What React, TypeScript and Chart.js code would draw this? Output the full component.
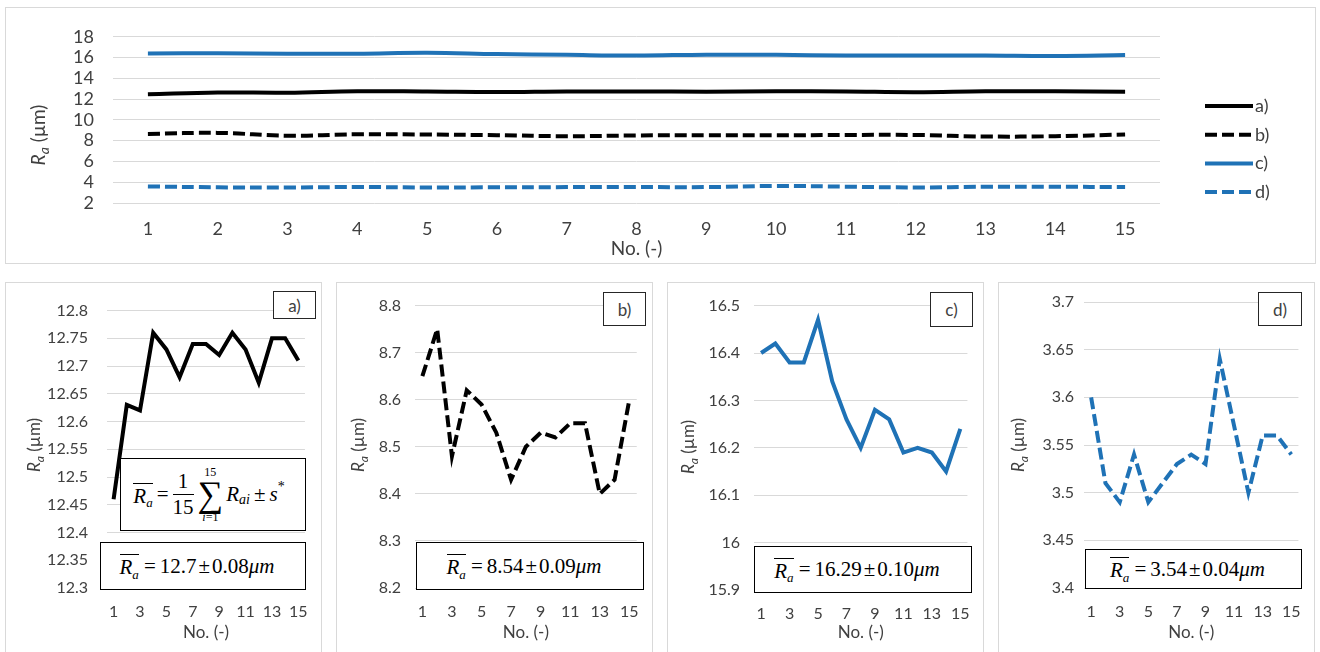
import React, { useEffect, useRef } from 'react';
import { Chart, registerables } from 'chart.js';

Chart.register(...registerables);

// ---------- data ----------
const sampleNumbers = ['1', '2', '3', '4', '5', '6', '7', '8', '9', '10', '11', '12', '13', '14', '15'];

const raSeriesA = [12.46, 12.63, 12.62, 12.76, 12.73, 12.68, 12.74, 12.74, 12.72, 12.76, 12.73, 12.67, 12.75, 12.75, 12.71];
const raSeriesB = [8.65, 8.75, 8.48, 8.62, 8.59, 8.53, 8.43, 8.5, 8.53, 8.52, 8.55, 8.55, 8.4, 8.43, 8.6];
const raSeriesC = [16.4, 16.42, 16.38, 16.38, 16.47, 16.34, 16.26, 16.2, 16.28, 16.26, 16.19, 16.2, 16.19, 16.15, 16.24];
const raSeriesD = [3.6, 3.51, 3.49, 3.54, 3.49, 3.51, 3.53, 3.54, 3.53, 3.64, 3.57, 3.5, 3.56, 3.56, 3.54];

const seriesNames = ['a)', 'b)', 'c)', 'd)'];

// y axis ranges: [min, max, step]
const overviewYRange = [2, 18, 2];
const detailYRanges = [
  [12.3, 12.8, 0.05],
  [8.2, 8.8, 0.1],
  [15.9, 16.5, 0.1],
  [3.4, 3.7, 0.05],
];

// mean ± sample standard deviation, as printed in each panel
const meanLabels = ['12.7', '8.54', '16.29', '3.54'];
const stdLabels = ['0.08', '0.09', '0.10', '0.04'];

const xTitleText = 'No. (-)';

// ---------- styles ----------
const BLACK = '#000000';
const BLUE = '#1f72b6';
const GRID = '#d9d9d9';
const TEXT = '#404040';
const SANS = 'Lato, "Open Sans", sans-serif';
const SERIF = '"Liberation Serif", "Times New Roman", serif';

const seriesStyles = [
  { color: BLACK, dash: [] as number[] },
  { color: BLACK, dash: [12, 5] },
  { color: BLUE, dash: [] as number[] },
  { color: BLUE, dash: [12, 5] },
];
const seriesValues = [raSeriesA, raSeriesB, raSeriesC, raSeriesD];

type Rect = { x: number; y: number; w: number; h: number };
type Area = { l: number; t: number; r: number; b: number };

// ---------- plugins ----------
// draws the axis titles: "No. (-)" under the x axis and a rotated "Ra (µm)" with italic subscript
const axisTextPlugin = {
  id: 'axisText',
  afterDraw(chart: any, _args: any, opts: any) {
    const { ctx, chartArea } = chart;
    const size = opts.size;
    ctx.save();
    ctx.fillStyle = TEXT;
    ctx.font = `${size}px ${SANS}`;
    ctx.textAlign = 'center';
    ctx.textBaseline = 'middle';
    ctx.fillText(opts.xText, (chartArea.left + chartArea.right) / 2, opts.xTitleY);

    ctx.translate(opts.yTitleX, opts.yTitleY);
    ctx.rotate(-Math.PI / 2);
    ctx.textAlign = 'left';
    ctx.textBaseline = 'alphabetic';
    const parts = [
      { t: 'R', font: `italic ${size}px ${SANS}`, dy: 0 },
      { t: 'a', font: `italic ${Math.round(size * 0.72)}px ${SANS}`, dy: size * 0.22 },
      { t: ' (\u00b5m)', font: `${size}px ${SANS}`, dy: 0 },
    ];
    let total = 0;
    const widths = parts.map((p) => {
      ctx.font = p.font;
      const w = ctx.measureText(p.t).width;
      total += w;
      return w;
    });
    let x = -total / 2;
    const base = size * 0.35;
    parts.forEach((p, i) => {
      ctx.font = p.font;
      ctx.fillText(p.t, x, base + p.dy);
      x += widths[i];
    });
    ctx.restore();
  },
};

// legend made of line samples, using each dataset's own stroke style
const lineLegendPlugin = {
  id: 'lineLegend',
  afterDraw(chart: any, _args: any, opts: any) {
    if (!opts || !opts.show) return;
    const { ctx } = chart;
    ctx.save();
    chart.data.datasets.forEach((ds: any, i: number) => {
      const y = opts.y + i * opts.gap;
      ctx.strokeStyle = ds.borderColor;
      ctx.lineWidth = ds.borderWidth;
      ctx.setLineDash(ds.borderDash || []);
      ctx.beginPath();
      ctx.moveTo(opts.x, y);
      ctx.lineTo(opts.x + opts.length, y);
      ctx.stroke();
      ctx.setLineDash([]);
      ctx.fillStyle = TEXT;
      ctx.font = `${opts.size}px ${SANS}`;
      ctx.textAlign = 'left';
      ctx.textBaseline = 'middle';
      ctx.fillText(ds.label, opts.x + opts.length + 2, y);
    });
    ctx.restore();
  },
};

function fmt(v: number) {
  return String(Number(Number(v).toFixed(2)));
}

function buildConfig(p: {
  frame: Rect;
  area: Area;
  datasets: any[];
  yRange: number[];
  yPad: number;
  xPad: number;
  every: number;
  tickSize: number;
  titleSize: number;
  yTitle: { x: number; y: number };
  xTitleY: number;
  legend?: any;
}) {
  const { frame, area } = p;
  const yAxisWidth = area.l - frame.x;
  const xAxisHeight = frame.y + frame.h - area.b;
  return {
    type: 'line',
    data: { labels: sampleNumbers, datasets: p.datasets },
    plugins: [axisTextPlugin, lineLegendPlugin],
    options: {
      responsive: false,
      animation: false,
      events: [],
      layout: {
        autoPadding: false,
        padding: {
          left: 0,
          top: area.t - frame.y,
          right: frame.x + frame.w - area.r,
          bottom: 0,
        },
      },
      elements: { point: { radius: 0 } },
      plugins: {
        legend: { display: false },
        tooltip: { enabled: false },
        axisText: {
          size: p.titleSize,
          xText: xTitleText,
          xTitleY: p.xTitleY - frame.y,
          yTitleX: p.yTitle.x - frame.x,
          yTitleY: p.yTitle.y - frame.y,
        },
        lineLegend: p.legend || { show: false },
      },
      scales: {
        x: {
          type: 'category',
          offset: true,
          grid: { display: false, drawTicks: false },
          border: { display: false },
          ticks: {
            autoSkip: false,
            maxRotation: 0,
            padding: p.xPad,
            color: TEXT,
            font: { family: SANS, size: p.tickSize },
            callback: (_v: any, i: number) => (i % p.every === 0 ? sampleNumbers[i] : ''),
          },
          afterFit: (s: any) => {
            s.height = xAxisHeight;
          },
        },
        y: {
          min: p.yRange[0],
          max: p.yRange[1],
          grid: { color: GRID, lineWidth: 1, drawTicks: false },
          border: { display: false },
          ticks: {
            stepSize: p.yRange[2],
            autoSkip: false,
            padding: p.yPad,
            color: TEXT,
            font: { family: SANS, size: p.tickSize },
            callback: (v: any) => fmt(v),
          },
          afterFit: (s: any) => {
            s.width = yAxisWidth;
          },
        },
      },
    },
  };
}

function ChartBox({ frame, config }: { frame: Rect; config: any }) {
  const ref = useRef<HTMLCanvasElement>(null);
  useEffect(() => {
    const chart = new Chart(ref.current as HTMLCanvasElement, config);
    return () => chart.destroy();
  }, []);
  return (
    <canvas
      ref={ref}
      width={frame.w}
      height={frame.h}
      style={{ position: 'absolute', left: frame.x, top: frame.y, width: frame.w, height: frame.h, display: 'block' }}
    />
  );
}

function Border({ r }: { r: Rect }) {
  return (
    <div
      style={{
        position: 'absolute',
        left: r.x,
        top: r.y,
        width: r.w,
        height: r.h,
        border: `1px solid ${GRID}`,
        boxSizing: 'border-box',
      }}
    />
  );
}

function RBar({ size }: { size: number }) {
  return (
    <span
      style={{
        display: 'inline-block',
        borderTop: '1px solid #000',
        lineHeight: 1,
        paddingTop: 2,
        fontStyle: 'italic',
        fontSize: size,
      }}
    >
      R<span style={{ fontSize: size * 0.62, position: 'relative', top: size * 0.22 }}>a</span>
    </span>
  );
}

const boxBase: React.CSSProperties = {
  position: 'absolute',
  border: '1px solid #000',
  background: '#fff',
  boxSizing: 'border-box',
  display: 'flex',
  alignItems: 'center',
  color: '#000',
};

function MeanBox({ r, mean, std }: { r: Rect; mean: string; std: string }) {
  return (
    <div
      style={{
        ...boxBase,
        left: r.x,
        top: r.y,
        width: r.w,
        height: r.h,
        justifyContent: 'center',
        paddingRight: 12,
        fontFamily: SERIF,
        fontSize: 21,
        whiteSpace: 'nowrap',
      }}
    >
      <RBar size={21} />
      <span style={{ margin: '0 4px 0 5px' }}>=</span>
      <span>{mean}</span>
      <span style={{ margin: '0 2px' }}>{'\u00b1'}</span>
      <span>{std}</span>
      <span style={{ fontStyle: 'italic' }}>{'\u03bcm'}</span>
    </div>
  );
}

function FormulaBox({ r }: { r: Rect }) {
  return (
    <div
      style={{
        ...boxBase,
        left: r.x,
        top: r.y,
        width: r.w,
        height: r.h,
        justifyContent: 'center',
        paddingRight: 8,
        fontFamily: SERIF,
        fontSize: 21,
        whiteSpace: 'nowrap',
      }}
    >
      <RBar size={21} />
      <span style={{ margin: '0 4px' }}>=</span>
      <span style={{ display: 'inline-flex', flexDirection: 'column', alignItems: 'center', lineHeight: 1 }}>
        <span style={{ paddingBottom: 2 }}>1</span>
        <span style={{ borderTop: '1px solid #000', paddingTop: 2 }}>15</span>
      </span>
      <span
        style={{
          display: 'inline-flex',
          flexDirection: 'column',
          alignItems: 'center',
          lineHeight: 1,
          margin: '0 3px 0 4px',
        }}
      >
        <span style={{ fontSize: 12 }}>15</span>
        <span style={{ fontSize: 36, lineHeight: 0.9 }}>{'\u2211'}</span>
        <span style={{ fontSize: 12 }}>
          <i>i</i>=1
        </span>
      </span>
      <span style={{ fontStyle: 'italic' }}>R</span>
      <span style={{ fontStyle: 'italic', fontSize: 14, position: 'relative', top: 5 }}>ai</span>
      <span style={{ margin: '0 4px' }}>{'\u00b1'}</span>
      <span style={{ fontStyle: 'italic' }}>s</span>
      <span style={{ fontSize: 14, position: 'relative', top: -8 }}>*</span>
    </div>
  );
}

function TagBox({ r, text }: { r: Rect; text: string }) {
  return (
    <div
      style={{
        ...boxBase,
        left: r.x,
        top: r.y,
        width: r.w,
        height: r.h,
        justifyContent: 'center',
        fontFamily: SANS,
        fontSize: 17,
        color: TEXT,
        border: '1px solid #262626',
      }}
    >
      {text}
    </div>
  );
}

// ---------- layout ----------
const overviewFrame: Rect = { x: 5, y: 7, w: 1311, h: 257 };
const overviewArea: Area = { l: 113, r: 1160, t: 22, b: 203 };

const panelFrames: Rect[] = [
  { x: 5, y: 282, w: 317, h: 370 },
  { x: 336, y: 282, w: 317, h: 370 },
  { x: 667, y: 282, w: 317, h: 370 },
  { x: 998, y: 282, w: 317, h: 370 },
];
const panelAreas: Area[] = [
  { l: 107, r: 311, t: 304, b: 588 },
  { l: 415, r: 642, t: 303, b: 588 },
  { l: 754, r: 972, t: 302, b: 590 },
  { l: 1084, r: 1302, t: 302, b: 588 },
];
const panelYPad = [19, 14, 14, 10];
const panelYTitles = [
  { x: 34, y: 445 },
  { x: 358, y: 445 },
  { x: 688, y: 447 },
  { x: 1018, y: 445 },
];
const tagBoxes: Rect[] = [
  { x: 273, y: 291, w: 43, h: 28 },
  { x: 603, y: 292, w: 43, h: 34 },
  { x: 930, y: 292, w: 43, h: 35 },
  { x: 1258, y: 292, w: 44, h: 34 },
];
const meanBoxes: Rect[] = [
  { x: 100, y: 542, w: 206, h: 48 },
  { x: 416, y: 542, w: 228, h: 48 },
  { x: 754, y: 546, w: 218, h: 47 },
  { x: 1085, y: 549, w: 217, h: 40 },
];
const formulaBox: Rect = { x: 120, y: 458, w: 186, h: 73 };

function makeDataset(i: number, tension: number) {
  return {
    label: seriesNames[i],
    data: seriesValues[i],
    borderColor: seriesStyles[i].color,
    backgroundColor: seriesStyles[i].color,
    borderDash: seriesStyles[i].dash,
    borderWidth: 4,
    borderCapStyle: 'butt',
    borderJoinStyle: 'miter',
    tension,
    fill: false,
  };
}

export default function App() {
  const overviewConfig = buildConfig({
    frame: overviewFrame,
    area: overviewArea,
    datasets: [0, 1, 2, 3].map((i) => makeDataset(i, 0.4)),
    yRange: overviewYRange,
    yPad: 19,
    xPad: 15,
    every: 1,
    tickSize: 18,
    titleSize: 19,
    yTitle: { x: 38, y: 135 },
    xTitleY: 249,
    legend: { show: true, x: 1205 - overviewFrame.x, y: 106 - overviewFrame.y, gap: 28.7, length: 48, size: 18 },
  });

  const panelConfigs = [0, 1, 2, 3].map((i) =>
    buildConfig({
      frame: panelFrames[i],
      area: panelAreas[i],
      datasets: [makeDataset(i, 0)],
      yRange: detailYRanges[i],
      yPad: panelYPad[i],
      xPad: 14,
      every: 2,
      tickSize: 16,
      titleSize: 17,
      yTitle: panelYTitles[i],
      xTitleY: 633,
    })
  );

  return (
    <div
      style={{
        position: 'fixed',
        left: 0,
        top: 0,
        width: 1320,
        height: 652,
        overflow: 'hidden',
        background: '#fff',
      }}
    >
      <Border r={overviewFrame} />
      <ChartBox frame={overviewFrame} config={overviewConfig} />
      {panelFrames.map((f, i) => (
        <React.Fragment key={i}>
          <Border r={{ x: f.x, y: f.y, w: f.w, h: f.h + 10 }} />
          <ChartBox frame={f} config={panelConfigs[i]} />
          <TagBox r={tagBoxes[i]} text={seriesNames[i]} />
          <MeanBox r={meanBoxes[i]} mean={meanLabels[i]} std={stdLabels[i]} />
        </React.Fragment>
      ))}
      <FormulaBox r={formulaBox} />
    </div>
  );
}
